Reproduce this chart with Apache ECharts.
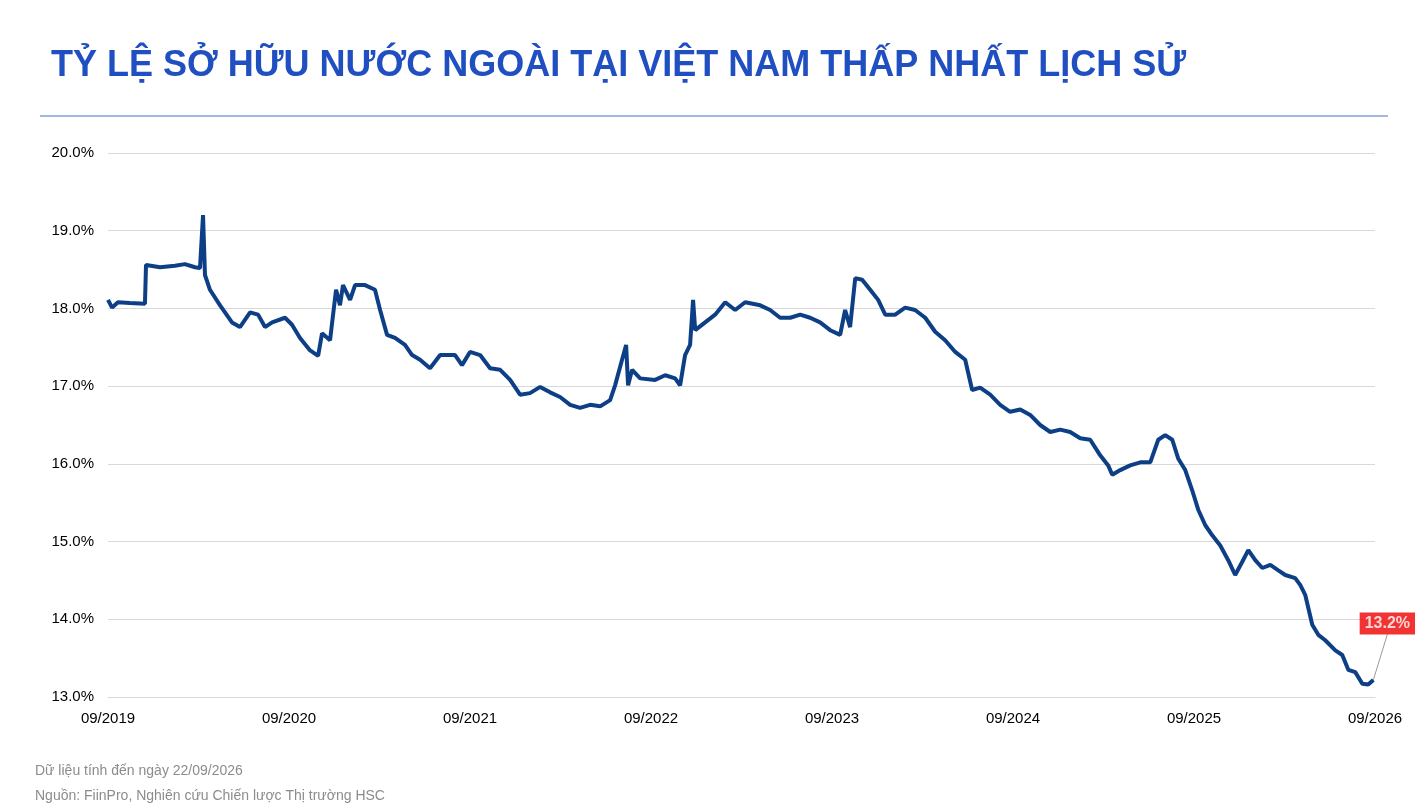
<!DOCTYPE html>
<html>
<head>
<meta charset="utf-8">
<script src="https://cdn.jsdelivr.net/npm/echarts@6/dist/echarts.min.js"></script>
<style>
html,body{margin:0;padding:0;background:#fff;}
#chart{width:1428px;height:812px;}
</style>
</head>
<body>
<div id="chart"></div>
<script>
// thang tinh tu 09/2019
var months = [0,0.27,0.66,1.46,2.45,2.52,3.45,4.44,5.1,5.77,6.1,6.3,6.43,6.76,7.43,8.22,8.75,9.42,9.95,10.41,10.88,11.74,12.2,12.73,13.4,13.93,14.19,14.72,15.12,15.38,15.58,16.05,16.38,17.04,17.7,18.04,18.5,19.03,19.69,20.16,20.69,21.35,22.02,23.01,23.47,24.0,24.67,25.33,26.0,26.66,27.32,27.98,28.65,29.31,29.97,30.64,31.3,31.96,32.63,33.29,33.62,34.08,34.35,34.48,34.75,35.28,36.27,36.94,37.6,37.93,38.26,38.59,38.79,38.93,39.59,40.25,40.92,41.58,42.24,43.24,43.9,44.56,45.23,45.89,46.55,47.21,47.88,48.54,48.87,49.2,49.54,50.0,50.53,51.06,51.53,52.19,52.85,53.51,54.18,54.84,55.5,56.17,56.83,57.29,57.82,58.49,59.15,59.81,60.48,61.14,61.8,62.47,63.13,63.79,64.46,65.12,65.78,66.31,66.58,67.11,67.77,68.44,69.1,69.63,70.09,70.56,70.95,71.42,71.88,72.28,72.75,73.21,73.74,74.27,74.73,75.2,75.6,76.06,76.53,77.06,77.59,78.05,78.71,79.05,79.38,79.84,80.24,80.7,81.37,81.83,82.23,82.69,83.16,83.55,83.89];
var ratio = [18.11,18.01,18.08,18.07,18.06,18.56,18.53,18.55,18.57,18.53,18.52,19.2,18.43,18.24,18.04,17.82,17.76,17.95,17.92,17.76,17.82,17.88,17.79,17.62,17.46,17.39,17.68,17.59,18.24,18.04,18.3,18.11,18.3,18.3,18.24,17.98,17.66,17.62,17.53,17.4,17.34,17.23,17.4,17.4,17.27,17.44,17.4,17.23,17.21,17.08,16.89,16.91,16.99,16.92,16.86,16.76,16.72,16.76,16.74,16.82,17.01,17.34,17.53,17.01,17.21,17.1,17.08,17.14,17.1,17.01,17.4,17.53,18.11,17.72,17.82,17.92,18.08,17.98,18.08,18.04,17.98,17.88,17.88,17.92,17.88,17.82,17.72,17.66,17.98,17.76,18.39,18.37,18.24,18.11,17.92,17.92,18.01,17.98,17.88,17.7,17.59,17.44,17.34,16.95,16.98,16.89,16.76,16.67,16.7,16.63,16.5,16.41,16.44,16.41,16.33,16.31,16.11,15.98,15.86,15.92,15.98,16.02,16.02,16.31,16.37,16.31,16.07,15.92,15.66,15.41,15.21,15.08,14.95,14.76,14.57,14.74,14.89,14.76,14.66,14.7,14.63,14.57,14.53,14.44,14.31,13.93,13.8,13.73,13.6,13.54,13.35,13.32,13.17,13.16,13.22];
var tickLabels = ['09/2019','09/2020','09/2021','09/2022','09/2023','09/2024','09/2025','09/2026'];

var data = [];
for (var i = 0; i < months.length; i++) {
    data.push([months[i], ratio[i]]);
}
var last = data[data.length - 1];
var ff = '"Liberation Sans", Arial, sans-serif';

var chart = echarts.init(document.getElementById('chart'));
var option = {
    animation: false,
    textStyle: {fontFamily: ff},
    title: {
        text: 'TỶ LỆ SỞ HỮU NƯỚC NGOÀI TẠI VIỆT NAM THẤP NHẤT LỊCH SỬ',
        left: 46, top: 43,
        textStyle: {color: '#1f4fc0', fontSize: 36, fontWeight: 'bold', fontFamily: ff}
    },
    graphic: [
        {type: 'line', shape: {x1: 40, y1: 116, x2: 1388, y2: 116}, style: {stroke: '#4a6fc8', lineWidth: 1}},
        {type: 'text', left: 35, top: 764, style: {text: 'Dữ liệu tính đến ngày 22/09/2026', fill: '#8c8c8c', font: '14px ' + ff}},
        {type: 'text', left: 35, top: 789, style: {text: 'Nguồn: FiinPro, Nghiên cứu Chiến lược Thị trường HSC', fill: '#8c8c8c', font: '14px ' + ff}}
    ],
    grid: {left: 108, right: 53, top: 153, bottom: 115},
    xAxis: {
        type: 'value', min: 0, max: 84, interval: 12,
        axisLine: {show: true, lineStyle: {color: '#d9d9d9'}},
        axisTick: {show: false},
        splitLine: {show: false},
        axisLabel: {
            color: '#000', fontSize: 15, margin: 14,
            formatter: function (v) { return tickLabels[v / 12]; }
        }
    },
    yAxis: {
        type: 'value', min: 13, max: 20, interval: 1,
        axisLine: {show: false},
        axisTick: {show: false},
        splitLine: {lineStyle: {color: '#d9d9d9'}},
        axisLabel: {
            color: '#000', fontSize: 15, margin: 14,
            formatter: function (v) { return v.toFixed(1) + '%'; }
        }
    },
    series: [
        {
            type: 'line', data: data, showSymbol: false,
            lineStyle: {color: '#0d3f86', width: 4},
            itemStyle: {color: '#0d3f86'}
        },
        {
            type: 'scatter', data: [last], symbolSize: 1,
            itemStyle: {color: '#0d3f86'},
            label: {
                show: true, position: 'top',
                formatter: function (p) { return p.value[1].toFixed(1) + '%'; },
                backgroundColor: '#ee0000', color: '#fff', fontWeight: 'bold', fontSize: 16,
                padding: [3, 5]
            },
            labelLayout: {dx: 14, dy: -40},
            labelLine: {show: true, lineStyle: {color: '#999', width: 1}}
        }
    ]
};
chart.setOption(option);
</script>
</body>
</html>
